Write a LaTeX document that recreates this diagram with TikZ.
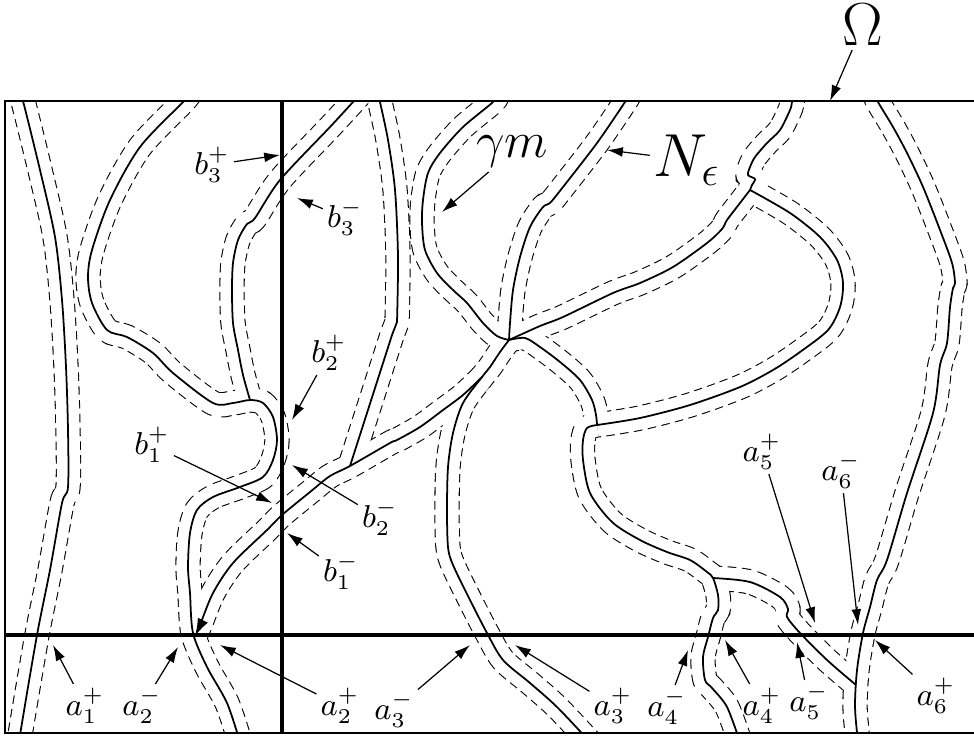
\documentclass[tikz,border=0pt]{standalone}
\usetikzlibrary{arrows.meta}

% curves of the partition (pixel coordinates, y downwards)
\newcommand{\cvLeft}{plot[smooth] coordinates {(19,90) (23,101) (40,170) (55,237) (62,300) (66,367) (68,430) (68,487) (62,503) (50,570) (37,635) (20,735) (19,745)}}
\newcommand{\cvLoop}{plot[smooth] coordinates {(190,93) (183,102) (140,147) (110,200) (92,250) (88,277) (92,303) (107,330) (127,337) (153,353) (173,373) (213,403) (233,403) (250,400) (263,403) (273,417) (277,440) (273,460) (263,477) (240,487) (213,497) (197,510) (190,533) (188,567) (190,593) (193,633) (207,667) (227,703) (240,742)}}
\newcommand{\cvHook}{plot[smooth] coordinates {(362,92) (353,102) (330,127) (280,180) (255,218) (247,224) (238,240) (233,263) (232,290) (233,323) (238,350) (243,375) (250,400)}}
\newcommand{\cvThin}{plot[smooth] coordinates {(378,92) (380,102) (388,140) (395,190) (398,257) (397,322)} -- (392,335) -- (350,466)}
\newcommand{\cvGamma}{plot[smooth] coordinates {(498,93) (493,102) (463,127) (440,153) (428,173) (423,200) (422,223) (425,250) (437,273) (453,290) (467,303) (483,323) (497,336) (509,340)}}
\newcommand{\cvMid}{plot[smooth] coordinates {(630,93) (625,102) (597,143) (563,187) (550,203) (543,207) (530,227) (520,257) (513,290) (510,323) (509,340)}}
\newcommand{\cvJK}{plot[smooth] coordinates {(509,340) (540,326) (563,317) (613,293) (640,283) (673,267) (707,243) (722,229) (727,220) (740,203) (750,190)}}
\newcommand{\cvTop}{plot[smooth] coordinates {(794,92) (792,102) (790,110) (780,130) (767,143) (755,157) (750,167) (748,175) (755,179) (752,185) (750,190)}}
\newcommand{\cvBulge}{plot[smooth] coordinates {(750,190) (790,213) (820,237) (837,260) (843,283) (840,307) (828,330) (800,352) (773,370) (740,387) (690,405) (640,418) (597,425)}}
\newcommand{\cvJL}{plot[smooth] coordinates {(509,340) (525,338) (540,347) (560,362) (580,380) (592,400) (596,415) (597,425)}}
\newcommand{\cvDown}{plot[smooth] coordinates {(597,425) (587,428) (583,440) (583,460) (590,493) (612,522) (640,540) (667,552) (690,560) (707,572) (713,578) (718,595) (718,610) (713,618) (708,637) (703,657) (705,680) (712,688) (727,707) (740,742)}}
\newcommand{\cvLower}{plot[smooth] coordinates {(713,578) (750,582) (780,597) (788,609) (787,617) (800,633) (827,660) (856,685)}}
\newcommand{\cvRight}{plot[smooth] coordinates {(874,92) (878,102) (893,127) (907,153) (923,187) (940,230) (952,263) (955,283) (953,288) (950,307) (947,343) (940,365) (933,413) (907,493) (887,560) (877,580) (870,607) (863,633) (857,670) (855,707) (858,742)}}
\newcommand{\cvCross}{plot[smooth] coordinates {(509,340) (500,352) (490,367) (482,377) (463,403) (453,433) (448,467) (447,510) (448,547) (453,565) (470,600) (487,633) (503,660) (530,683) (557,707) (590,742)}}
\newcommand{\cvBranch}{plot[smooth] coordinates {(482,377) (463,395) (443,410) (420,427) (397,440) (390,443) (350,466) (330,476) (310,492) (282,515) (267,530) (233,563) (213,593) (200,625) (195,636)}}

\begin{document}
\begin{tikzpicture}[x=0.01cm, y=-0.01cm,
    curve/.style={line width=0.5pt, line join=round},
    nbdash/.style={line width=7.2pt, dash pattern=on 2.4pt off 1.5pt},
    nbfill/.style={white, line width=6.6pt, line join=round},
    frame/.style={line width=0.5pt},
    cut/.style={line width=1pt},
    pointer/.style={line width=0.35pt, -{Latex[length=4.5pt, width=2.8pt]}},
    lab/.style={inner sep=1pt, font=\small}]
    \useasboundingbox (0,0) rectangle (974,740);
    % Neighbourhood N_eps and the curves
    \begin{scope}
        \clip (5,101) rectangle (974,733);
        \foreach \p in {\cvLeft, \cvLoop, \cvHook, \cvThin, \cvGamma, \cvMid, \cvJK, \cvTop, \cvBulge, \cvJL, \cvDown, \cvLower, \cvRight, \cvCross, \cvBranch}
            \draw[nbdash] \p;
        \foreach \p in {\cvLeft, \cvLoop, \cvHook, \cvThin, \cvGamma, \cvMid, \cvJK, \cvTop, \cvBulge, \cvJL, \cvDown, \cvLower, \cvRight, \cvCross, \cvBranch}
            \draw[nbfill] \p;
        \foreach \p in {\cvLeft, \cvLoop, \cvHook, \cvThin, \cvGamma, \cvMid, \cvJK, \cvTop, \cvBulge, \cvJL, \cvDown, \cvLower, \cvRight, \cvCross}
            \draw[curve] \p;
        \draw[curve, -{Latex[length=5pt, width=3.2pt]}] \cvBranch;
    \end{scope}
    % Frame of Omega
    \draw[frame] (974,101) -- (5,101) -- (5,733) -- (974,733);
    % Cutting lines
    \draw[cut] (282,101) -- (282,733);
    \draw[cut] (5,635) -- (974,635);
    % Big labels
    \node[inner sep=1pt] (lOmega) at (863,25) {\LARGE$\Omega$};
    \coordinate (tOmega) at (830,101);
    \draw[pointer] (lOmega) -- (tOmega);
    \node[inner sep=1pt] (lgamma) at (512,152) {\Large$\gamma m$};
    \coordinate (tgamma) at (442,212);
    \draw[pointer] (lgamma) -- (tgamma);
    \node[inner sep=1pt] (lneps) at (687,160) {\LARGE$N_\epsilon$};
    \coordinate (tneps) at (607,150);
    \draw[pointer] (lneps) -- (tneps);
    % Points b on the vertical line
    \node[lab] (lb3p) at (212,165) {$b_3^+$};
    \coordinate (tb3p) at (280,155);
    \draw[pointer] (lb3p) -- (tb3p);
    \node[lab] (lb3m) at (345,218) {$b_3^-$};
    \coordinate (tb3m) at (297,198);
    \draw[pointer] (lb3m) -- (tb3m);
    \node[lab] (lb2p) at (329,353) {$b_2^+$};
    \coordinate (tb2p) at (292,420);
    \draw[pointer] (lb2p) -- (tb2p);
    \node[lab] (lb1p) at (152,445) {$b_1^+$};
    \coordinate (tb1p) at (272,503);
    \draw[pointer] (lb1p) -- (tb1p);
    \node[lab] (lb2m) at (380,518) {$b_2^-$};
    \coordinate (tb2m) at (292,465);
    \draw[pointer] (lb2m) -- (tb2m);
    \node[lab] (lb1m) at (341,572) {$b_1^-$};
    \coordinate (tb1m) at (287,533);
    \draw[pointer] (lb1m) -- (tb1m);
    % Points a on the horizontal line
    \node[lab] (la1p) at (85,706) {$a_1^+$};
    \coordinate (ta1p) at (53,645);
    \draw[pointer] (la1p) -- (ta1p);
    \node[lab] (la2m) at (142,706) {$a_2^-$};
    \coordinate (ta2m) at (178,647);
    \draw[pointer] (la2m) -- (ta2m);
    \node[lab] (la2p) at (340,706) {$a_2^+$};
    \coordinate (ta2p) at (220,645);
    \draw[pointer] (la2p) -- (ta2p);
    \node[lab] (la3m) at (394,710) {$a_3^-$};
    \coordinate (ta3m) at (470,645);
    \draw[pointer] (la3m) -- (ta3m);
    \node[lab] (la3p) at (613,706) {$a_3^+$};
    \coordinate (ta3p) at (515,645);
    \draw[pointer] (la3p) -- (ta3p);
    \node[lab] (la4m) at (667,707) {$a_4^-$};
    \coordinate (ta4m) at (688,650);
    \draw[pointer] (la4m) -- (ta4m);
    \node[lab] (la4p) at (762,706) {$a_4^+$};
    \coordinate (ta4p) at (725,640);
    \draw[pointer] (la4p) -- (ta4p);
    \node[lab] (la5m) at (809,702) {$a_5^-$};
    \coordinate (ta5m) at (797,642);
    \draw[pointer] (la5m) -- (ta5m);
    \node[lab] (la6p) at (936,696) {$a_6^+$};
    \coordinate (ta6p) at (875,640);
    \draw[pointer] (la6p) -- (ta6p);
    \node[lab] (la5p) at (762,452) {$a_5^+$};
    \coordinate (ta5p) at (815,623);
    \draw[pointer] (la5p) -- (ta5p);
    \node[lab] (la6m) at (841,471) {$a_6^-$};
    \coordinate (ta6m) at (858,625);
    \draw[pointer] (la6m) -- (ta6m);
\end{tikzpicture}
\end{document}
